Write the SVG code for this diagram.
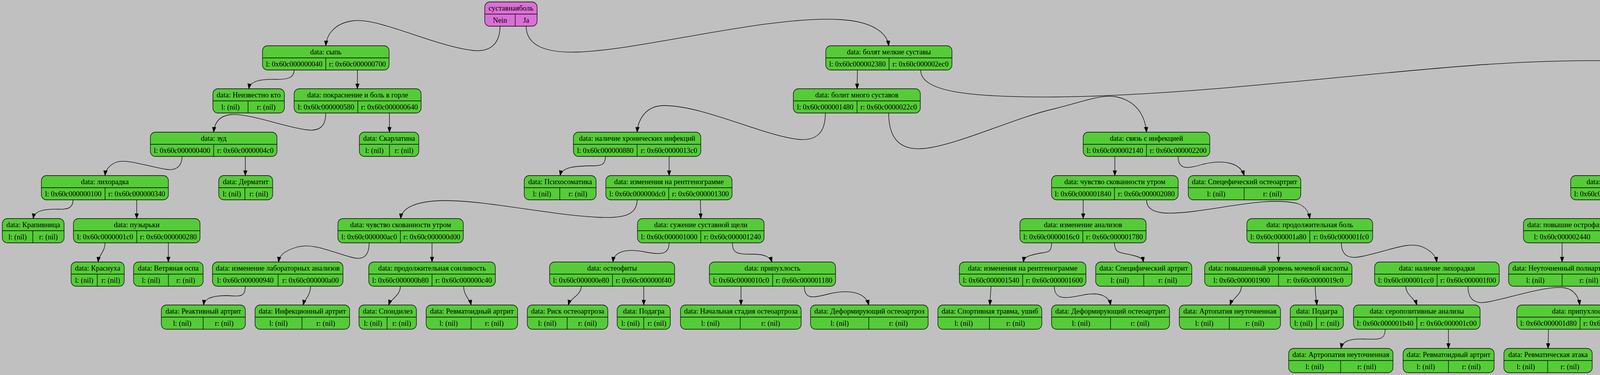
<svg xmlns="http://www.w3.org/2000/svg" width="5675" height="959" viewBox="0 0 5675 959">
<style>
.n rect{fill:#55cc37;stroke:#000;stroke-width:1.3}
.rt rect{fill:#da70d6;stroke:#000;stroke-width:1.3}
.n path,.rt path{stroke:#000;stroke-width:1.3;fill:none}
text{font-family:"Liberation Serif","Times New Roman",serif;font-size:18.67px;text-anchor:middle;fill:#000}
#edges path{stroke:#000;stroke-width:1.3;fill:none;marker-end:url(#ah)}
</style>
<defs>
<marker id="ah" markerUnits="userSpaceOnUse" markerWidth="14" markerHeight="10" refX="13" refY="4.7" orient="auto"><path d="M0,0 L13,4.7 L0,9.4 z" fill="#000" stroke="#000" stroke-width="1"/></marker>
</defs>
<rect x="0" y="0" width="5675" height="959" fill="#c0c0c0"/>
<g id="edges">
<path d="M1280,67 C1280,112 1255,134 1210,129 C1110,117 970,45 905,53 C855,59 836,90 834,117"/>
<path d="M1347,67 C1347,118 1400,136 1480,133 C1650,127 1960,40 2150,50 C2240,55 2272,88 2275,117"/>
<path d="M753,179 C753,198 738,204 705,203 C665,202 640,208 637,227"/>
<path d="M915,179 L915,227"/>
<path d="M834,289 C834,326 815,336 785,332 C730,325 640,290 592,293 C560,296 549,315 547,338"/>
<path d="M997,289 L997,338"/>
<path d="M466,400 C466,426 450,437 425,433 C380,426 322,405 297,415 C280,422 270,435 269,449"/>
<path d="M628,400 L628,449"/>
<path d="M187,511 C187,531 175,536 150,535 C110,534 88,540 85,559"/>
<path d="M350,511 L350,559"/>
<path d="M269,621 C269,643 253,652 251,670"/>
<path d="M431,621 L431,670"/>
<path d="M2195,179 L2194,227"/>
<path d="M2357,179 C2357,235 2480,249 2700,248 C3050,245 3450,190 3800,165 C4000,152 4200,150 4300,170 C4360,185 4387,205 4390,227"/>
<path d="M2113,289 C2113,340 2090,362 2040,356 C1950,345 1800,270 1700,270 C1650,270 1633,310 1631,338"/>
<path d="M2275,289 C2275,350 2300,385 2363,380 C2450,372 2600,300 2700,278 C2780,258 2820,240 2860,248 C2920,262 2933,310 2935,338"/>
<path d="M1550,400 C1550,420 1540,424 1520,424 C1470,424 1438,428 1434,449"/>
<path d="M1713,400 L1713,449"/>
<path d="M1631,511 C1631,548 1600,558 1540,556 C1420,552 1250,513 1140,513 C1070,513 1028,530 1026,559"/>
<path d="M1793,511 L1794,559"/>
<path d="M945,621 C945,660 925,665 900,658 C850,645 800,620 760,632 C725,642 715,655 713,670"/>
<path d="M1106,621 L1106,670"/>
<path d="M628,732 C628,762 612,757 580,756 C540,756 523,765 521,780"/>
<path d="M795,732 C795,756 780,765 776,780"/>
<path d="M1025,732 C1025,756 1000,765 995,780"/>
<path d="M1187,732 C1187,756 1203,765 1206,780"/>
<path d="M1713,621 C1713,652 1690,652 1650,644 C1600,634 1572,645 1569,670"/>
<path d="M1875,621 C1875,650 1890,650 1930,650 C1960,650 1973,660 1976,670"/>
<path d="M1488,732 C1488,755 1460,762 1455,780"/>
<path d="M1648,732 L1648,780"/>
<path d="M1897,732 L1897,780"/>
<path d="M2059,732 C2059,765 2080,763 2120,752 C2170,740 2215,745 2224,780"/>
<path d="M2854,400 L2854,449"/>
<path d="M3016,400 C3016,435 3040,432 3080,420 C3130,408 3175,415 3185,449"/>
<path d="M2773,511 L2773,559"/>
<path d="M2935,511 C2935,550 2990,549 3060,540 C3160,527 3250,505 3320,520 C3345,528 3351,545 3353,559"/>
<path d="M2692,621 C2692,650 2680,643 2650,650 C2628,655 2621,660 2620,670"/>
<path d="M2853,621 C2853,650 2870,645 2900,653 C2920,658 2926,662 2927,670"/>
<path d="M2537,732 L2534,780"/>
<path d="M2699,732 C2699,770 2730,763 2780,753 C2820,747 2840,760 2843,780"/>
<path d="M3273,621 L3273,670"/>
<path d="M3434,621 C3434,660 3460,662 3490,655 C3560,640 3610,615 3645,633 C3665,643 3676,655 3678,670"/>
<path d="M3178,732 C3178,755 3155,762 3149,780"/>
<path d="M3367,732 C3367,755 3370,765 3371,780"/>
<path d="M3599,732 C3599,755 3622,762 3627,780"/>
<path d="M3758,732 C3758,770 3780,778 3810,772 C3880,758 3960,730 4005,736 C4030,740 4042,760 4044,780"/>
<path d="M3546,842 C3546,870 3530,868 3490,867 C3450,866 3436,875 3433,891"/>
<path d="M3708,842 L3708,891"/>
<path d="M3964,842 L3963,891"/>
<path d="M4126,842 C4126,870 4140,867 4180,867 C4205,867 4217,878 4220,891"/>
<path d="M4310,289 L4310,338"/>
<path d="M4472,289 C4472,330 4490,345 4527,343 C4600,340 4720,278 4787,283 C4825,287 4840,315 4843,338"/>
<path d="M4228,400 C4228,425 4190,430 4186,449"/>
<path d="M4391,400 C4391,425 4432,430 4437,449"/>
<path d="M4102,511 L4100,559"/>
<path d="M4264,511 C4264,545 4290,545 4340,535 C4390,525 4414,535 4417,559"/>
<path d="M3999,621 L3999,670"/>
<path d="M4198,621 C4198,648 4230,650 4236,670"/>
<path d="M4762,400 L4762,449"/>
<path d="M4925,400 C4925,450 4950,462 4990,460 C5080,455 5220,380 5285,387 C5330,392 5345,420 5348,449"/>
<path d="M4680,511 C4680,535 4620,535 4616,559"/>
<path d="M4843,511 C4843,540 4902,535 4908,559"/>
<path d="M5267,511 L5267,559"/>
<path d="M5429,511 C5429,540 5460,538 5500,536 C5540,535 5550,545 5552,559"/>
</g>
<g id="root" class="rt"><rect x="1241" y="5" width="134" height="62" rx="13"/><path d="M1241,36H1375M1319,36V67"/><text x="1308" y="27">суставнаяболь</text><text x="1280" y="58">Nein</text><text x="1347" y="58">Ja</text></g>
<g id="n01" class="n"><rect x="672" y="117" width="324" height="62" rx="13"/><path d="M672,148H996M834,148V179"/><text x="834" y="139">data: сыпь</text><text x="753" y="170">l: 0x60c000000040</text><text x="915" y="170">r: 0x60c000000700</text></g>
<g id="n02" class="n"><rect x="2114" y="117" width="323" height="62" rx="13"/><path d="M2114,148H2437M2276,148V179"/><text x="2275.5" y="139">data: болят мелкие суставы</text><text x="2195" y="170">l: 0x60c000002380</text><text x="2356.5" y="170">r: 0x60c000002ec0</text></g>
<g id="n03" class="n"><rect x="545" y="227" width="183" height="62" rx="13"/><path d="M545,258H728M635,258V289"/><text x="636.5" y="249">data: Неизвестно кто</text><text x="590" y="280">l: (nil)</text><text x="681.5" y="280">r: (nil)</text></g>
<g id="n04" class="n"><rect x="753" y="227" width="325" height="62" rx="13"/><path d="M753,258H1078M916,258V289"/><text x="915.5" y="249">data: покраснение и боль в горле</text><text x="834.5" y="280">l: 0x60c000000580</text><text x="997" y="280">r: 0x60c000000640</text></g>
<g id="n05" class="n"><rect x="2031" y="227" width="325" height="62" rx="13"/><path d="M2031,258H2356M2194,258V289"/><text x="2193.5" y="249">data: болит много суставов</text><text x="2112.5" y="280">l: 0x60c000001480</text><text x="2275" y="280">r: 0x60c0000022c0</text></g>
<g id="n06" class="n"><rect x="4229" y="227" width="324" height="62" rx="13"/><path d="M4229,258H4553M4391,258V289"/><text x="4391" y="249">data: блоят межфаланговые суставы</text><text x="4310" y="280">l: 0x60c0000028c0</text><text x="4472" y="280">r: 0x60c000002e00</text></g>
<g id="n07" class="n"><rect x="385" y="338" width="324" height="62" rx="13"/><path d="M385,369H709M547,369V400"/><text x="547" y="360">data: зуд</text><text x="466" y="391">l: 0x60c000000400</text><text x="628" y="391">r: 0x60c0000004c0</text></g>
<g id="n08" class="n"><rect x="920" y="338" width="152" height="62" rx="13"/><path d="M920,369H1072M997,369V400"/><text x="996" y="360">data: Скарлатина</text><text x="958.5" y="391">l: (nil)</text><text x="1034.5" y="391">r: (nil)</text></g>
<g id="n09" class="n"><rect x="1468" y="338" width="326" height="62" rx="13"/><path d="M1468,369H1794M1631,369V400"/><text x="1631" y="360">data: наличие хронических инфекций</text><text x="1549.5" y="391">l: 0x60c000000880</text><text x="1712.5" y="391">r: 0x60c0000013c0</text></g>
<g id="n10" class="n"><rect x="2773" y="338" width="324" height="62" rx="13"/><path d="M2773,369H3097M2935,369V400"/><text x="2935" y="360">data: связь с инфекцией</text><text x="2854" y="391">l: 0x60c000002140</text><text x="3016" y="391">r: 0x60c000002200</text></g>
<g id="n11" class="n"><rect x="4147" y="338" width="325" height="62" rx="13"/><path d="M4147,369H4472M4310,369V400"/><text x="4309.5" y="360">data: повышенный уровень мочевины</text><text x="4228.5" y="391">l: 0x60c000002740</text><text x="4391" y="391">r: 0x60c000002800</text></g>
<g id="n12" class="n"><rect x="4681" y="338" width="325" height="62" rx="13"/><path d="M4681,369H5006M4844,369V400"/><text x="4843.5" y="360">data: изменения на рентгенограмме</text><text x="4762.5" y="391">l: 0x60c000002b00</text><text x="4925" y="391">r: 0x60c000002d40</text></g>
<g id="n13" class="n"><rect x="106" y="449" width="325" height="62" rx="13"/><path d="M106,480H431M269,480V511"/><text x="268.5" y="471">data: лихорадка</text><text x="187.5" y="502">l: 0x60c000000100</text><text x="350" y="502">r: 0x60c000000340</text></g>
<g id="n14" class="n"><rect x="560" y="449" width="138" height="62" rx="13"/><path d="M560,480H698M627,480V511"/><text x="629" y="471">data: Дерматит</text><text x="593.5" y="502">l: (nil)</text><text x="662.5" y="502">r: (nil)</text></g>
<g id="n15" class="n"><rect x="1342" y="449" width="184" height="62" rx="13"/><path d="M1342,480H1526M1433,480V511"/><text x="1434" y="471">data: Психосоматика</text><text x="1387.5" y="502">l: (nil)</text><text x="1479.5" y="502">r: (nil)</text></g>
<g id="n16" class="n"><rect x="1551" y="449" width="323" height="62" rx="13"/><path d="M1551,480H1874M1712,480V511"/><text x="1712.5" y="471">data: изменения на рентгенограмме</text><text x="1631.5" y="502">l: 0x60c000000dc0</text><text x="1793" y="502">r: 0x60c000001300</text></g>
<g id="n17" class="n"><rect x="2692" y="449" width="324" height="62" rx="13"/><path d="M2692,480H3016M2853,480V511"/><text x="2854" y="471">data: чувство скованности утром</text><text x="2772.5" y="502">l: 0x60c000001840</text><text x="2934.5" y="502">r: 0x60c000002080</text></g>
<g id="n18" class="n"><rect x="3042" y="449" width="288" height="62" rx="13"/><path d="M3042,480H3330M3185,480V511"/><text x="3186" y="471">data: Спецефический остеоартрит</text><text x="3113.5" y="502">l: (nil)</text><text x="3257.5" y="502">r: (nil)</text></g>
<g id="n19" class="n"><rect x="4021" y="449" width="324" height="62" rx="13"/><path d="M4021,480H4345M4182,480V511"/><text x="4183" y="471">data: воспаление сосудов глаза</text><text x="4101.5" y="502">l: 0x60c0000025c0</text><text x="4263.5" y="502">r: 0x60c000002680</text></g>
<g id="n20" class="n"><rect x="4370" y="449" width="136" height="62" rx="13"/><path d="M4370,480H4506M4436,480V511"/><text x="4438" y="471">data: Подагра</text><text x="4403" y="502">l: (nil)</text><text x="4471" y="502">r: (nil)</text></g>
<g id="n21" class="n"><rect x="4600" y="449" width="324" height="62" rx="13"/><path d="M4600,480H4924M4761,480V511"/><text x="4762" y="471">data: юношеский возраст</text><text x="4680.5" y="502">l: 0x60c000002980</text><text x="4842.5" y="502">r: 0x60c000002a40</text></g>
<g id="n22" class="n"><rect x="5187" y="449" width="323" height="62" rx="13"/><path d="M5187,480H5510M5348,480V511"/><text x="5348.5" y="471">data: серопозитивные анализы</text><text x="5267.5" y="502">l: 0x60c000002bc0</text><text x="5429" y="502">r: 0x60c000002c80</text></g>
<g id="n23" class="n"><rect x="6" y="559" width="158" height="62" rx="13"/><path d="M6,590H164M84,590V621"/><text x="85" y="581">data: Крапивница</text><text x="45" y="612">l: (nil)</text><text x="124" y="612">r: (nil)</text></g>
<g id="n24" class="n"><rect x="188" y="559" width="324" height="62" rx="13"/><path d="M188,590H512M350,590V621"/><text x="350" y="581">data: пузырьки</text><text x="269" y="612">l: 0x60c0000001c0</text><text x="431" y="612">r: 0x60c000000280</text></g>
<g id="n25" class="n"><rect x="865" y="559" width="321" height="62" rx="13"/><path d="M865,590H1186M1025,590V621"/><text x="1025.5" y="581">data: чувство скованности утром</text><text x="945" y="612">l: 0x60c000000ac0</text><text x="1105.5" y="612">r: 0x60c000000d00</text></g>
<g id="n26" class="n"><rect x="1632" y="559" width="324" height="62" rx="13"/><path d="M1632,590H1956M1794,590V621"/><text x="1794" y="581">data: сужение суставной щели</text><text x="1713" y="612">l: 0x60c000001000</text><text x="1875" y="612">r: 0x60c000001240</text></g>
<g id="n27" class="n"><rect x="2611" y="559" width="323" height="62" rx="13"/><path d="M2611,590H2934M2772,590V621"/><text x="2772.5" y="581">data: изменение анализов</text><text x="2691.5" y="612">l: 0x60c0000016c0</text><text x="2853" y="612">r: 0x60c000001780</text></g>
<g id="n28" class="n"><rect x="3192" y="559" width="322" height="62" rx="13"/><path d="M3192,590H3514M3353,590V621"/><text x="3353" y="581">data: продолжительная боль</text><text x="3272.5" y="612">l: 0x60c000001a80</text><text x="3433.5" y="612">r: 0x60c000001fc0</text></g>
<g id="n29" class="n"><rect x="3900" y="559" width="398" height="62" rx="13"/><path d="M3900,590H4298M4098,590V621"/><text x="4099" y="581">data: повышие острофазовых белков в анализах</text><text x="3999" y="612">l: 0x60c000002440</text><text x="4198" y="612">r: 0x60c000002500</text></g>
<g id="n30" class="n"><rect x="4323" y="559" width="190" height="62" rx="13"/><path d="M4323,590H4513M4417,590V621"/><text x="4418" y="581">data: Болезнь Рейтера</text><text x="4370" y="612">l: (nil)</text><text x="4465" y="612">r: (nil)</text></g>
<g id="n31" class="n"><rect x="4539" y="559" width="153" height="62" rx="13"/><path d="M4539,590H4692M4614,590V621"/><text x="4615.5" y="581">data: Полиартрит</text><text x="4576.5" y="612">l: (nil)</text><text x="4653" y="612">r: (nil)</text></g>
<g id="n32" class="n"><rect x="4718" y="559" width="381" height="62" rx="13"/><path d="M4718,590H5099M4908,590V621"/><text x="4908.5" y="581">data: Ювенальный ревматоидный полиартрит</text><text x="4813" y="612">l: (nil)</text><text x="5003.5" y="612">r: (nil)</text></g>
<g id="n33" class="n"><rect x="5124" y="559" width="286" height="62" rx="13"/><path d="M5124,590H5410M5267,590V621"/><text x="5267" y="581">data: Риск ревматоидного артрита</text><text x="5195.5" y="612">l: (nil)</text><text x="5338.5" y="612">r: (nil)</text></g>
<g id="n34" class="n"><rect x="5435" y="559" width="235" height="62" rx="13"/><path d="M5435,590H5670M5551,590V621"/><text x="5552.5" y="581">data: Ревматоидный артрит</text><text x="5493" y="612">l: (nil)</text><text x="5610.5" y="612">r: (nil)</text></g>
<g id="n35" class="n"><rect x="182" y="670" width="136" height="62" rx="13"/><path d="M182,701H318M249,701V732"/><text x="250" y="692">data: Краснуха</text><text x="215.5" y="723">l: (nil)</text><text x="283.5" y="723">r: (nil)</text></g>
<g id="n36" class="n"><rect x="342" y="670" width="178" height="62" rx="13"/><path d="M342,701H520M431,701V732"/><text x="431" y="692">data: Ветряная оспа</text><text x="386.5" y="723">l: (nil)</text><text x="475.5" y="723">r: (nil)</text></g>
<g id="n37" class="n"><rect x="544" y="670" width="334" height="62" rx="13"/><path d="M544,701H878M712,701V732"/><text x="711" y="692">data: изменение лабораторных анализов</text><text x="628" y="723">l: 0x60c000000940</text><text x="795" y="723">r: 0x60c000000a00</text></g>
<g id="n38" class="n"><rect x="944" y="670" width="324" height="62" rx="13"/><path d="M944,701H1268M1106,701V732"/><text x="1106" y="692">data: продолжительная сонливость</text><text x="1025" y="723">l: 0x60c000000b80</text><text x="1187" y="723">r: 0x60c000000c40</text></g>
<g id="n39" class="n"><rect x="1407" y="670" width="320" height="62" rx="13"/><path d="M1407,701H1727M1568,701V732"/><text x="1567" y="692">data: остеофиты</text><text x="1487.5" y="723">l: 0x60c000000e80</text><text x="1647.5" y="723">r: 0x60c000000f40</text></g>
<g id="n40" class="n"><rect x="1816" y="670" width="323" height="62" rx="13"/><path d="M1816,701H2139M1978,701V732"/><text x="1977.5" y="692">data: припухлость</text><text x="1897" y="723">l: 0x60c0000010c0</text><text x="2058.5" y="723">r: 0x60c000001180</text></g>
<g id="n41" class="n"><rect x="2456" y="670" width="324" height="62" rx="13"/><path d="M2456,701H2780M2618,701V732"/><text x="2618" y="692">data: изменения на рентгенограмме</text><text x="2537" y="723">l: 0x60c000001540</text><text x="2699" y="723">r: 0x60c000001600</text></g>
<g id="n42" class="n"><rect x="2805" y="670" width="246" height="62" rx="13"/><path d="M2805,701H3051M2928,701V732"/><text x="2928" y="692">data: Специфический артрит</text><text x="2866.5" y="723">l: (nil)</text><text x="2989.5" y="723">r: (nil)</text></g>
<g id="n43" class="n"><rect x="3084" y="670" width="377" height="62" rx="13"/><path d="M3084,701H3461M3273,701V732"/><text x="3272.5" y="692">data: повышенный уровень мочевой кислоты</text><text x="3178.5" y="723">l: 0x60c000001900</text><text x="3367" y="723">r: 0x60c0000019c0</text></g>
<g id="n44" class="n"><rect x="3519" y="670" width="319" height="62" rx="13"/><path d="M3519,701H3838M3679,701V732"/><text x="3678.5" y="692">data: наличие лихорадки</text><text x="3599" y="723">l: 0x60c000001cc0</text><text x="3758.5" y="723">r: 0x60c000001f00</text></g>
<g id="n45" class="n"><rect x="3862" y="670" width="274" height="62" rx="13"/><path d="M3862,701H4136M3999,701V732"/><text x="3999" y="692">data: Неуточненный полиартрит</text><text x="3930.5" y="723">l: (nil)</text><text x="4067.5" y="723">r: (nil)</text></g>
<g id="n46" class="n"><rect x="4161" y="670" width="150" height="62" rx="13"/><path d="M4161,701H4311M4236,701V732"/><text x="4236" y="692">data: Коллагеноз</text><text x="4198.5" y="723">l: (nil)</text><text x="4273.5" y="723">r: (nil)</text></g>
<g id="n47" class="n"><rect x="413" y="780" width="215" height="62" rx="13"/><path d="M413,811H628M520,811V842"/><text x="520.5" y="802">data: Реактивный артрит</text><text x="466.5" y="833">l: (nil)</text><text x="574" y="833">r: (nil)</text></g>
<g id="n48" class="n"><rect x="653" y="780" width="242" height="62" rx="13"/><path d="M653,811H895M773,811V842"/><text x="774" y="802">data: Инфекционный артрит</text><text x="713" y="833">l: (nil)</text><text x="834" y="833">r: (nil)</text></g>
<g id="n49" class="n"><rect x="919" y="780" width="147" height="62" rx="13"/><path d="M919,811H1066M991,811V842"/><text x="992.5" y="802">data: Спондилез</text><text x="955" y="833">l: (nil)</text><text x="1028.5" y="833">r: (nil)</text></g>
<g id="n50" class="n"><rect x="1091" y="780" width="234" height="62" rx="13"/><path d="M1091,811H1325M1206,811V842"/><text x="1208" y="802">data: Ревматоидный артрит</text><text x="1148.5" y="833">l: (nil)</text><text x="1265.5" y="833">r: (nil)</text></g>
<g id="n51" class="n"><rect x="1350" y="780" width="206" height="62" rx="13"/><path d="M1350,811H1556M1452,811V842"/><text x="1453" y="802">data: Риск остеоартроза</text><text x="1401" y="833">l: (nil)</text><text x="1504" y="833">r: (nil)</text></g>
<g id="n52" class="n"><rect x="1580" y="780" width="136" height="62" rx="13"/><path d="M1580,811H1716M1648,811V842"/><text x="1648" y="802">data: Подагра</text><text x="1614" y="833">l: (nil)</text><text x="1682" y="833">r: (nil)</text></g>
<g id="n53" class="n"><rect x="1742" y="780" width="309" height="62" rx="13"/><path d="M1742,811H2051M1895,811V842"/><text x="1896.5" y="802">data: Начальная стадия остеоартроза</text><text x="1818.5" y="833">l: (nil)</text><text x="1973" y="833">r: (nil)</text></g>
<g id="n54" class="n"><rect x="2075" y="780" width="301" height="62" rx="13"/><path d="M2075,811H2376M2224,811V842"/><text x="2225.5" y="802">data: Деформирующий остеоартроз</text><text x="2149.5" y="833">l: (nil)</text><text x="2300" y="833">r: (nil)</text></g>
<g id="n55" class="n"><rect x="2401" y="780" width="266" height="62" rx="13"/><path d="M2401,811H2667M2533,811V842"/><text x="2534" y="802">data: Спортивная травма, ушиб</text><text x="2467" y="833">l: (nil)</text><text x="2600" y="833">r: (nil)</text></g>
<g id="n56" class="n"><rect x="2692" y="780" width="302" height="62" rx="13"/><path d="M2692,811H2994M2843,811V842"/><text x="2843" y="802">data: Деформирующий остеоартрит</text><text x="2767.5" y="833">l: (nil)</text><text x="2918.5" y="833">r: (nil)</text></g>
<g id="n57" class="n"><rect x="3019" y="780" width="259" height="62" rx="13"/><path d="M3019,811H3278M3147,811V842"/><text x="3148.5" y="802">data: Артопатия неуточненная</text><text x="3083" y="833">l: (nil)</text><text x="3212.5" y="833">r: (nil)</text></g>
<g id="n58" class="n"><rect x="3303" y="780" width="136" height="62" rx="13"/><path d="M3303,811H3439M3370,811V842"/><text x="3371" y="802">data: Подагра</text><text x="3336.5" y="833">l: (nil)</text><text x="3404.5" y="833">r: (nil)</text></g>
<g id="n59" class="n"><rect x="3465" y="780" width="324" height="62" rx="13"/><path d="M3465,811H3789M3627,811V842"/><text x="3627" y="802">data: серопозитивные анализы</text><text x="3546" y="833">l: 0x60c000001b40</text><text x="3708" y="833">r: 0x60c000001c00</text></g>
<g id="n60" class="n"><rect x="3883" y="780" width="323" height="62" rx="13"/><path d="M3883,811H4206M4045,811V842"/><text x="4044.5" y="802">data: припухлость</text><text x="3964" y="833">l: 0x60c000001d80</text><text x="4125.5" y="833">r: 0x60c000001e40</text></g>
<g id="n61" class="n"><rect x="3299" y="891" width="267" height="62" rx="13"/><path d="M3299,922H3566M3432,922V953"/><text x="3432.5" y="913">data: Артропатия неуточненная</text><text x="3365.5" y="944">l: (nil)</text><text x="3499" y="944">r: (nil)</text></g>
<g id="n62" class="n"><rect x="3592" y="891" width="233" height="62" rx="13"/><path d="M3592,922H3825M3708,922V953"/><text x="3708.5" y="913">data: Ревматоидный артрит</text><text x="3650" y="944">l: (nil)</text><text x="3766.5" y="944">r: (nil)</text></g>
<g id="n63" class="n"><rect x="3850" y="891" width="226" height="62" rx="13"/><path d="M3850,922H4076M3962,922V953"/><text x="3963" y="913">data: Ревматическая атака</text><text x="3906" y="944">l: (nil)</text><text x="4019" y="944">r: (nil)</text></g>
<g id="n64" class="n"><rect x="4101" y="891" width="238" height="62" rx="13"/><path d="M4101,922H4339M4219,922V953"/><text x="4220" y="913">data: Ревматический артрит</text><text x="4160" y="944">l: (nil)</text><text x="4279" y="944">r: (nil)</text></g>
</svg>
